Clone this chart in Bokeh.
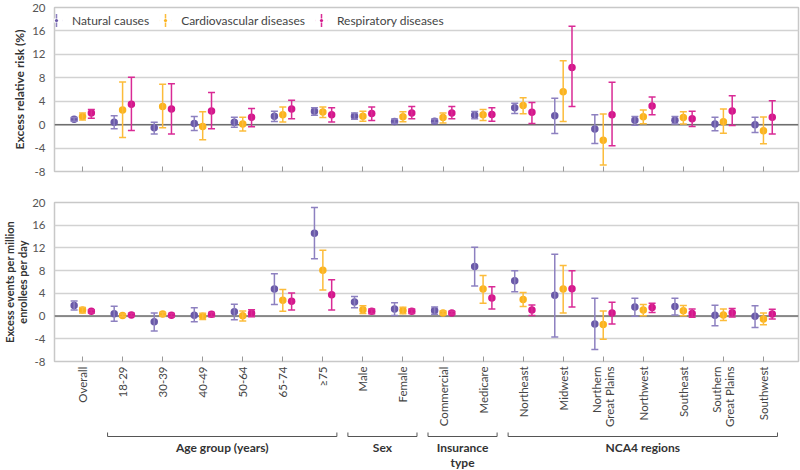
import numpy as np
from bokeh.plotting import figure
from bokeh.models import (ColumnDataSource, Range1d, FixedTicker, Whisker, TeeHead, Span,
                          Legend, LegendItem)
from bokeh.layouts import column
from bokeh.embed import file_html
from bokeh.resources import INLINE
from bokeh.core.properties import value

# ---------------- data ----------------
categories = ["Overall", "18-29", "30-39", "40-49", "50-64", "65-74", "\u226575",
              "Male", "Female", "Commercial", "Medicare",
              "Northeast", "Midwest", "Northern\nGreat Plains", "Northwest",
              "Southeast", "Southern\nGreat Plains", "Southwest"]
group_names = ["Age group (years)", "Sex", "Insurance\ntype", "NCA4 regions"]
group_first = [1, 7, 9, 11]
group_last = [6, 8, 10, 17]
series_names = ["Natural causes", "Cardiovascular diseases", "Respiratory diseases"]
y_ticks = [-8, -4, 0, 4, 8, 12, 16, 20]

# Excess relative risk (%)
rr_nat = [0.9, 0.4, -0.55, 0.2, 0.4, 1.45, 2.3, 1.45, 0.55, 0.6, 1.6, 2.9, 1.5, -0.75, 0.75, 0.75, 0.1, 0.0]
rr_nat_lo = [0.6, -0.7, -1.6, -1.0, -0.45, 0.55, 1.6, 0.9, 0.2, 0.3, 1.0, 1.9, -1.5, -3.2, -0.1, 0.1, -1.05, -1.35]
rr_nat_hi = [1.2, 1.5, 0.4, 1.4, 1.25, 2.3, 2.9, 2.0, 0.95, 0.95, 2.25, 3.65, 4.5, 1.7, 1.4, 1.4, 1.25, 1.25]
rr_cvd = [1.4, 2.5, 3.1, -0.3, 0.1, 1.7, 2.15, 1.45, 1.35, 1.2, 1.7, 3.25, 5.6, -2.65, 1.35, 1.2, 0.5, -1.05]
rr_cvd_lo = [0.8, -2.2, -0.55, -2.6, -1.1, 0.45, 1.2, 0.6, 0.5, 0.3, 0.7, 1.85, 0.55, -6.9, 0.15, 0.1, -1.45, -3.25]
rr_cvd_hi = [2.0, 7.3, 6.9, 2.2, 1.25, 3.0, 3.0, 2.3, 2.2, 2.0, 2.6, 4.6, 10.9, 1.8, 2.5, 2.2, 2.65, 1.3]
rr_res = [2.0, 3.5, 2.65, 2.35, 1.25, 2.65, 1.7, 1.9, 2.0, 2.0, 1.75, 2.1, 9.75, 1.7, 3.2, 1.0, 2.35, 1.25]
rr_res_lo = [1.1, -1.0, -1.6, -0.7, -0.35, 1.0, 0.45, 0.7, 1.0, 1.0, 0.6, 0.2, 3.1, -3.6, 1.7, -0.3, -0.15, -1.6]
rr_res_hi = [2.6, 8.1, 7.0, 5.5, 2.75, 4.15, 2.9, 3.0, 3.1, 3.1, 2.9, 3.8, 16.8, 7.25, 4.7, 2.3, 4.95, 4.1]

# Excess events per million enrollees per day
ev_nat = [1.85, 0.4, -1.0, 0.15, 0.75, 4.75, 14.6, 2.5, 1.25, 1.0, 8.75, 6.2, 3.65, -1.4, 1.6, 1.7, 0.15, -0.05]
ev_nat_lo = [1.05, -0.9, -2.65, -1.0, -0.65, 2.05, 10.1, 1.45, 0.1, 0.3, 5.3, 4.3, -3.7, -5.9, -0.05, 0.2, -1.7, -2.0]
ev_nat_hi = [2.65, 1.75, 0.55, 1.45, 2.1, 7.45, 19.1, 3.45, 2.35, 1.6, 12.1, 8.0, 10.9, 3.15, 3.15, 3.15, 1.9, 1.8]
ev_cvd = [1.05, 0.1, 0.35, -0.05, 0.05, 2.8, 8.05, 1.1, 1.0, 0.55, 4.75, 2.9, 4.75, -1.5, 1.05, 0.95, 0.2, -0.5]
ev_cvd_lo = [0.55, -0.1, 0.0, -0.6, -0.85, 0.85, 4.6, 0.45, 0.4, 0.3, 2.25, 1.7, 0.55, -4.1, 0.05, 0.05, -0.8, -1.55]
ev_cvd_hi = [1.5, 0.35, 0.65, 0.5, 0.9, 4.7, 11.6, 1.8, 1.55, 0.9, 7.15, 4.15, 8.9, 0.9, 2.05, 1.85, 1.25, 0.55]
ev_res = [0.85, 0.2, 0.15, 0.3, 0.5, 2.6, 3.75, 0.85, 0.85, 0.55, 3.2, 1.05, 4.8, 0.55, 1.5, 0.45, 0.6, 0.35]
ev_res_lo = [0.55, -0.05, -0.1, -0.1, -0.1, 1.05, 1.05, 0.4, 0.45, 0.3, 1.25, 0.1, 1.6, -1.4, 0.65, -0.2, -0.15, -0.5]
ev_res_hi = [1.1, 0.5, 0.45, 0.65, 1.1, 4.05, 6.4, 1.25, 1.25, 0.85, 5.15, 1.95, 8.0, 2.45, 2.25, 1.25, 1.35, 1.2]

# ---------------- styling ----------------
FONT = "Lato"
DOT_COLORS = ["#6a59a8", "#fbb31d", "#d4168c"]
BAR_COLORS = ["#8d80c0", "#fcbc3a", "#d92a95"]
OFFSETS = [-0.21, 0.0, 0.22]
W = 800
LB, RB = 49, 2
FRAME_H = 164
n = len(categories)
x_range = Range1d(-0.7, 17.875)
Y0, Y1 = -8, 20


def make_panel(series, ylabel, top_b, bot_b, show_labels, label_standoff, label_size, legend=False):
    p = figure(width=W, height=top_b + FRAME_H + bot_b, x_range=x_range, y_range=Range1d(Y0, Y1),
               output_backend="svg", toolbar_location=None,
               min_border_left=LB, min_border_right=RB,
               min_border_top=top_b, min_border_bottom=bot_b)
    p.outline_line_color = "#c8c8c8"
    p.outline_line_width = 1.5
    p.background_fill_color = "white"
    p.xgrid.grid_line_color = None
    ya = p.yaxis[0]
    ya.ticker = FixedTicker(ticks=y_ticks)
    ya.major_label_overrides = {t: str(t) for t in y_ticks}
    ya.axis_line_color = None
    ya.major_tick_line_color = None
    ya.minor_tick_line_color = None
    ya.major_label_standoff = 3
    ya.major_label_text_font = FONT
    ya.major_label_text_font_size = "11.5px"
    ya.major_label_text_color = "#555555"
    ya.axis_label = ylabel
    ya.axis_label_text_font = FONT
    ya.axis_label_text_font_style = "bold"
    ya.axis_label_text_font_size = label_size
    ya.axis_label_text_color = "#333333"
    ya.axis_label_text_line_height = 1.0
    ya.axis_label_standoff = label_standoff
    p.ygrid.grid_line_color = "#d2d2d2"
    p.ygrid.grid_line_width = 1.5

    xa = p.xaxis[0]
    xa.ticker = FixedTicker(ticks=list(range(n)))
    xa.major_label_overrides = {i: c for i, c in enumerate(categories)}
    xa.axis_line_color = None
    xa.minor_tick_line_color = None
    xa.major_tick_in = 5
    xa.major_tick_out = 0
    xa.major_tick_line_color = "#9a9a9a"
    xa.major_tick_line_width = 1
    if show_labels:
        xa.major_label_orientation = np.pi / 2
        xa.major_label_standoff = 5
        xa.major_label_text_font = FONT
        xa.major_label_text_font_size = "11.5px"
        xa.major_label_text_color = "#444444"
        xa.major_label_text_line_height = 1.0
    else:
        xa.major_label_text_font_size = "0px"
        xa.major_label_standoff = 0

    p.add_layout(Span(location=0, dimension="width", line_color="#6e6e6e",
                      line_width=1.5, level="underlay"))

    for k, (est, lo, hi) in enumerate(series):
        src = ColumnDataSource(dict(x=np.arange(n) + OFFSETS[k], y=est, lo=lo, hi=hi))
        w = Whisker(source=src, base="x", upper="hi", lower="lo", dimension="height",
                    line_color=BAR_COLORS[k], line_width=1.5, level="glyph",
                    upper_head=TeeHead(size=7, line_color=BAR_COLORS[k], line_width=1.5),
                    lower_head=TeeHead(size=7, line_color=BAR_COLORS[k], line_width=1.5))
        p.add_layout(w)
        p.scatter("x", "y", source=src, size=7.5, fill_color=DOT_COLORS[k], line_color=None)

    if legend:
        items = []
        for k in range(3):
            # legend-only glyphs: a plus whose horizontal arm is masked, plus a dot -> bar with dot
            rc = p.scatter(x=[np.nan], y=[np.nan], marker="cross",
                           line_color=BAR_COLORS[k], line_width=1.5)
            rm = p.scatter(x=[np.nan], y=[np.nan], marker="dash",
                           line_color="white", line_width=4)
            rd = p.scatter(x=[np.nan], y=[np.nan], marker="dot", line_color=DOT_COLORS[k],
                           fill_color=DOT_COLORS[k], line_width=2.5)
            items.append(LegendItem(label=series_names[k], renderers=[rc, rm, rd]))
        lg = Legend(items=items, location=(-14, FRAME_H - 29), orientation="horizontal",
                    background_fill_alpha=0, border_line_color=None,
                    padding=0, margin=0, spacing=-20, label_standoff=-7,
                    glyph_width=32, glyph_height=32,
                    label_text_font=FONT, label_text_font_size="12px",
                    label_text_color="#444444")
        p.add_layout(lg)
    return p


top = make_panel([(rr_nat, rr_nat_lo, rr_nat_hi), (rr_cvd, rr_cvd_lo, rr_cvd_hi),
                  (rr_res, rr_res_lo, rr_res_hi)],
                 "Excess relative risk (%)", 7, 17, False, 2, "12px", legend=True)
bottom = make_panel([(ev_nat, ev_nat_lo, ev_nat_hi), (ev_cvd, ev_cvd_lo, ev_cvd_hi),
                     (ev_res, ev_res_lo, ev_res_hi)],
                    "Excess events per million\nenrollees per day", 14, 63, True, 0, "11px")

# ---------------- group brackets ----------------
BH = 470 - (7 + FRAME_H + 17) - (14 + FRAME_H + 63)
br = figure(width=W, height=BH, x_range=x_range, y_range=Range1d(BH, 0),
            output_backend="svg", toolbar_location=None,
            min_border_left=LB, min_border_right=RB, min_border_top=0, min_border_bottom=0,
            x_axis_location=None, y_axis_location=None)
br.outline_line_color = None
br.xgrid.visible = False
br.ygrid.visible = False
gx0 = [f - 0.375 for f in group_first]
gx1 = [l + 0.35 for l in group_last]
br.multi_line(xs=[[a, a, b, b] for a, b in zip(gx0, gx1)],
              ys=[[3, 7, 7, 3] for _ in gx0], line_color="#555555", line_width=1)
br.text(x=[(a + b) / 2 for a, b in zip(gx0, gx1)], y=[10] * len(gx0), text=group_names,
        text_font=value(FONT), text_font_style="bold", text_font_size="12px",
        text_color="#333333", text_align="center", text_baseline="top", text_line_height=1.0)

layout = column(top, bottom, br, spacing=0)
open("out.html", "w").write(file_html(layout, INLINE))
